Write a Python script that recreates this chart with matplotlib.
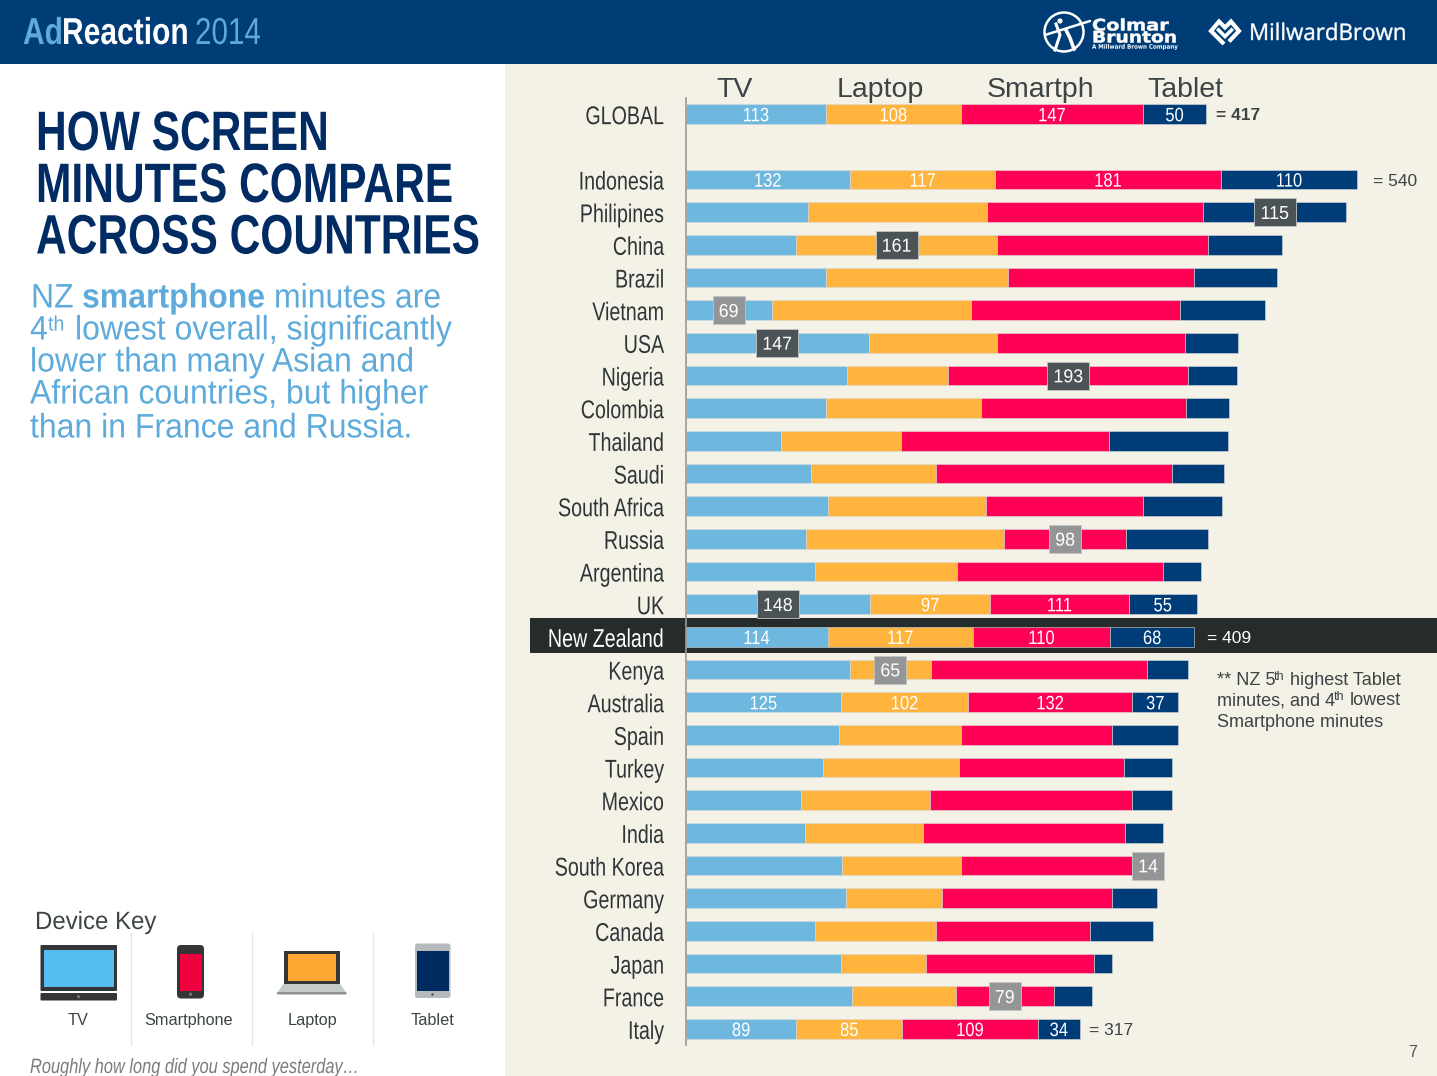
import matplotlib
matplotlib.use('Agg')
import numpy as np
import matplotlib.pyplot as plt
from matplotlib.patches import Rectangle, FancyBboxPatch, Polygon, Circle
from matplotlib.patheffects import AbstractPathEffect
from matplotlib.transforms import Affine2D, Bbox, ScaledTranslation

W, H = 1437, 1076
plt.rcParams['font.family'] = ['Liberation Sans', 'DejaVu Sans']

# data (minutes per day)
countries = ['GLOBAL', 'Indonesia', 'Philipines', 'China', 'Brazil', 'Vietnam', 'USA', 'Nigeria',
             'Colombia', 'Thailand', 'Saudi', 'South Africa', 'Russia', 'Argentina', 'UK',
             'New Zealand', 'Kenya', 'Australia', 'Spain', 'Turkey', 'Mexico', 'India',
             'South Korea', 'Germany', 'Canada', 'Japan', 'France', 'Italy']
tv = [113, 132, 98, 89, 113, 69, 147, 130, 113, 77, 101, 114, 97, 104, 148, 114, 132, 125, 123, 110, 93, 96, 126, 129, 104, 125, 134, 89]
laptop = [108, 117, 144, 161, 146, 160, 103, 81, 124, 96, 100, 127, 159, 114, 97, 117, 65, 102, 98, 110, 103, 95, 95, 77, 97, 68, 83, 85]
smartphone = [147, 181, 174, 170, 150, 168, 151, 193, 165, 167, 190, 127, 98, 166, 111, 110, 174, 132, 122, 132, 163, 162, 138, 137, 124, 135, 79, 109]
tablet = [50, 110, 115, 59, 66, 69, 43, 39, 35, 96, 42, 63, 66, 30, 55, 68, 33, 37, 53, 39, 32, 31, 14, 36, 51, 15, 31, 34]
series_names = ['TV', 'Laptop', 'Smartph', 'Tablet']

# which rows print their values inside the bars
labelled = ['GLOBAL', 'Indonesia', 'UK', 'New Zealand', 'Australia', 'Italy']
# highlighted values: country, series index
callouts_dark = [('Philipines', 3), ('China', 1), ('USA', 0), ('Nigeria', 2), ('UK', 0)]
callouts_grey = [('Vietnam', 0), ('Russia', 2), ('Kenya', 1), ('South Korea', 3), ('France', 2)]
totals = {'GLOBAL': 417, 'Indonesia': 540, 'New Zealand': 409, 'Italy': 317}

device_names = ['TV', 'Smartphone', 'Laptop', 'Tablet']

C_TV, C_LAP, C_PHONE, C_TAB = '#6eb7df', '#ffb43e', '#ff0055', '#003d78'
NAVY = '#003d77'
BG = '#f4f1e7'
INK = '#3c4446'
BLUE_TXT = '#5eabdb'


# no condensed font installed, so squeeze the glyphs sideways at draw time
class Squeeze(AbstractPathEffect):
    def __init__(self, txt, sx, stroke=0):
        super().__init__()
        self.txt = txt
        self.sx = sx
        self.stroke = stroke

    def draw_path(self, renderer, gc, tpath, affine, rgbFace=None):
        x0 = self.txt.get_transform().transform(self.txt.get_position())[0]
        affine = affine + Affine2D().translate(-x0, 0).scale(self.sx, 1).translate(x0, 0)
        if self.stroke:
            gc.set_linewidth(self.stroke)
            gc.set_foreground(rgbFace)
        renderer.draw_path(gc, tpath, affine, rgbFace)


def squeeze(txt, sx, stroke=0):
    txt.set_path_effects([Squeeze(txt, sx, stroke)])
    orig = txt.get_window_extent

    def extent(renderer=None, dpi=None):
        bb = orig(renderer, dpi)
        x0 = txt.get_transform().transform(txt.get_position())[0]
        return Bbox.from_extents(x0 + (bb.x0 - x0) * sx, bb.y0, x0 + (bb.x1 - x0) * sx, bb.y1)

    txt.get_window_extent = extent
    return txt


fig = plt.figure(figsize=(W / 100, H / 100), dpi=100, facecolor='white')

# background layer, pixel coordinates
bg = fig.add_axes([0, 0, 1, 1], zorder=0)
bg.set_xlim(0, W)
bg.set_ylim(H, 0)
bg.axis('off')
bg.add_patch(Rectangle((505, 64), W - 505, H - 64, fc=BG, ec='none'))
bg.add_patch(Rectangle((0, 0), W, 63.5, fc=NAVY, ec='none'))
bg.add_patch(Rectangle((530, 618), W - 530, 35, fc='#252c2b', ec='none'))

# chart
scale = 1.244
row_px = 32.67
x_start = 685.7
ax = fig.add_axes([x_start / W, 1 - 1045 / H, (W - x_start) / W, (1045 - 98) / H], zorder=1)
ax.patch.set_alpha(0)
ax.set_xlim(0, (W - x_start) / scale)
ax.set_ylim((1045 - 179.5) / row_px, (98 - 179.5) / row_px)
rows = np.array([-2] + list(range(len(countries) - 1)))
values = np.array([tv, laptop, smartphone, tablet], dtype=float)
lefts = np.vstack([np.zeros(len(countries)), np.cumsum(values, axis=0)[:-1]])
for vals, left, col in zip(values, lefts, [C_TV, C_LAP, C_PHONE, C_TAB]):
    ax.barh(rows, vals, left=left, height=0.6, color=col, edgecolor='#d9dcdc', linewidth=0.4)

for s in ['top', 'right', 'bottom']:
    ax.spines[s].set_visible(False)
ax.spines['left'].set_color('#9a9a9a')
ax.spines['left'].set_linewidth(1.2)
ax.set_xticks([])
ax.set_yticks(rows)
ax.set_yticklabels(countries, fontsize=18.5, color='#2f3638')
ax.tick_params(axis='y', length=0, pad=15.5)
for lab in ax.get_yticklabels():
    lab.set_transform(lab.get_transform() + ScaledTranslation(0, -0.005, fig.dpi_scale_trans))
    squeeze(lab, 0.765)
ax.get_yticklabels()[countries.index('New Zealand')].set_color('white')

# values inside bars
for name in labelled:
    i = countries.index(name)
    for j in range(4):
        if name == 'UK' and j == 0:
            continue
        squeeze(ax.text(lefts[j, i] + values[j, i] / 2, rows[i] + 0.08, '%d' % values[j, i], color='white',
                        fontsize=14, ha='center', va='center'), 0.85)

# boxed call outs
for group, col in [(callouts_dark, '#4b5356'), (callouts_grey, '#939597')]:
    for name, j in group:
        i = countries.index(name)
        cx = lefts[j, i] + values[j, i] / 2
        if name == 'South Korea':
            cx += 7 / scale  # box sits past the end of the short bar
        label = '%d' % values[j, i]
        bw = (42 if len(label) == 3 else 32) / scale
        bh = 28 / row_px
        ax.add_patch(Rectangle((cx - bw / 2, rows[i] - bh / 2), bw, bh, fc=col, ec='#c4c6c6', lw=0.6, zorder=5))
        squeeze(ax.text(cx, rows[i] + 0.07, label, color='white', fontsize=13.5, ha='center', va='center',
                        zorder=6), 0.95)

# totals
for name, total in totals.items():
    i = countries.index(name)
    end = values[:, i].sum()
    off = {'GLOBAL': 7.5, 'Indonesia': 11.5, 'New Zealand': 9, 'Italy': 6.5}[name]
    ax.annotate('= %d' % total, (end, rows[i]), xytext=(off, -1.1), textcoords='offset points',
                va='center', ha='left', fontsize=12.5,
                color='white' if name == 'New Zealand' else INK,
                fontweight='bold' if name == 'GLOBAL' else 'normal')

# top layer, pixel coordinates
top = fig.add_axes([0, 0, 1, 1], zorder=2)
top.set_xlim(0, W)
top.set_ylim(H, 0)
top.axis('off')
top.patch.set_alpha(0)


def t(x, y, s, sx=None, stroke=0, **kw):
    kw.setdefault('va', 'baseline')
    txt = top.text(x, y, s, **kw)
    if sx:
        squeeze(txt, sx, stroke)
    return txt


# series headers
for x, name in zip([716.5, 836.5, 987, 1147.5], series_names):
    t(x, 97, name, fontsize=20.5, color=INK)

# header band
t(23, 44, 'Ad', sx=0.8, fontsize=27, fontweight='bold', color=BLUE_TXT)
t(62, 44, 'Reaction', sx=0.8, fontsize=27, fontweight='bold', color='white')
t(195, 44, '2014', sx=0.79, fontsize=27, color=BLUE_TXT)

# Colmar Brunton logo
top.add_patch(Circle((1064, 32), 19.5, fc='none', ec='white', lw=1.8))
top.add_patch(Circle((1060, 21), 2.6, fc='white', ec='none'))
top.plot([1045, 1090], [35, 21], color='white', lw=1.8, solid_capstyle='round')
top.plot([1056, 1060, 1055], [24, 35, 50], color='white', lw=2.2)
top.plot([1066, 1070, 1074], [30, 38, 49], color='white', lw=2.6)
bold_logo = dict(family='DejaVu Sans', fontweight='bold', color='white')
t(1092, 30.5, 'Colmar', sx=1.21, stroke=0.35, fontsize=11.5, **bold_logo)
t(1092, 42.5, 'Brunton', sx=1.17, stroke=0.35, fontsize=11.5, **bold_logo)
t(1092, 48.7, 'A Millward Brown Company', sx=0.91, fontsize=4.4, **bold_logo)

# Millward Brown logo
top.plot([1224, 1211, 1219, 1225, 1231, 1239, 1229], [44, 31, 21.5, 27.5, 21.5, 31, 41.5], color='white', lw=3,
         solid_joinstyle='miter', solid_capstyle='butt')
top.plot([1218.5, 1225, 1231.5], [30, 36.5, 30], color='white', lw=2.6, solid_joinstyle='miter')
t(1249, 40, 'MillwardBrown', sx=0.975, stroke=0.3, fontsize=16.5, family=['Open Sans', 'DejaVu Sans'], color='white')

# left column headline
for y, line in zip([150, 202, 253.5], ['HOW SCREEN', 'MINUTES COMPARE', 'ACROSS COUNTRIES']):
    t(36, y, line, sx=0.765, fontsize=40, fontweight='bold', color='#002b63')

sub = dict(sx=0.94, fontsize=24.5, color=BLUE_TXT)
t(31, 307.5, 'NZ', **sub)
t(82, 307.5, 'smartphone', fontweight='bold', **sub)
t(274, 307.5, 'minutes are', **sub)
t(30, 339.5, '4', **sub)
t(48, 330.5, 'th', sx=0.94, fontsize=15, color=BLUE_TXT)
t(75, 339.5, 'lowest overall, significantly', **sub)
t(30, 371.5, 'lower than many Asian and', **sub)
t(30, 403.5, 'African countries, but higher', **sub)
t(30, 437.5, 'than in France and Russia.', **sub)

# note next to the bars
note = dict(fontsize=13, color=INK)
t(1217, 685, '** NZ 5', **note)
t(1274, 680, 'th', fontsize=9, color=INK)
t(1290, 685, 'highest Tablet', **note)
t(1217, 705, 'minutes, and 4', **note)
t(1334, 700, 'th', fontsize=9, color=INK)
t(1350, 705, 'lowest', **note)
t(1217, 727, 'Smartphone minutes', **note)

t(1408, 1057, '7', fontsize=11.5, color='#555555')

# device key
t(35, 929, 'Device Key', sx=0.96, fontsize=18, color=INK)
for x in [131, 251.5, 372.5]:
    top.plot([x, x], [933, 1045], color='#e6e6e6', lw=1)
for x, name in zip([78.5, 189, 312, 432.5], device_names):
    t(x, 1025, name, fontsize=11.7, ha='center', color=INK)
t(30, 1073, 'Roughly how long did you spend yesterday…', sx=0.787, fontsize=15, style='italic', color='#7c7c7c')


def box(x0, y0, x1, y1, col, r=0):
    if r:
        top.add_patch(FancyBboxPatch((x0 + r, y0 + r), x1 - x0 - 2 * r, y1 - y0 - 2 * r,
                                     boxstyle='round,pad=%g,rounding_size=%g' % (r, r), fc=col, ec='none'))
    else:
        top.add_patch(Rectangle((x0, y0), x1 - x0, y1 - y0, fc=col, ec='none'))


DARK = '#333536'
# tv
box(40.5, 945, 117, 991, DARK, 1)
box(44, 949.5, 114, 987, '#56bdf0')
box(40.5, 993, 117, 1000.5, DARK, 1)
top.add_patch(Circle((78.5, 996.7), 1.6, fc='#777777', ec='none'))
# phone
box(177, 945, 204, 998.5, DARK, 4)
box(180, 953.5, 202, 990.5, '#f0003c')
top.add_patch(Circle((190.5, 994.2), 1.6, fc='#777777', ec='none'))
# laptop
top.add_patch(Polygon([(284, 983), (339.5, 983), (346.5, 993), (277, 993)], fc='#c5cbca', ec='none'))
box(277, 992, 346.5, 994.5, '#8e9290', 0.8)
box(284, 950.5, 339.5, 983.5, DARK)
box(287.5, 953.5, 335.5, 980.5, '#ffa733')
# tablet
box(415, 943.5, 450.5, 998, '#b5bbbd', 2.5)
box(417, 950.5, 449, 991, '#002b61')
top.add_patch(Circle((432.5, 994.5), 1.3, fc='#555555', ec='none'))

fig.savefig('out.png', dpi=100, facecolor='white')
